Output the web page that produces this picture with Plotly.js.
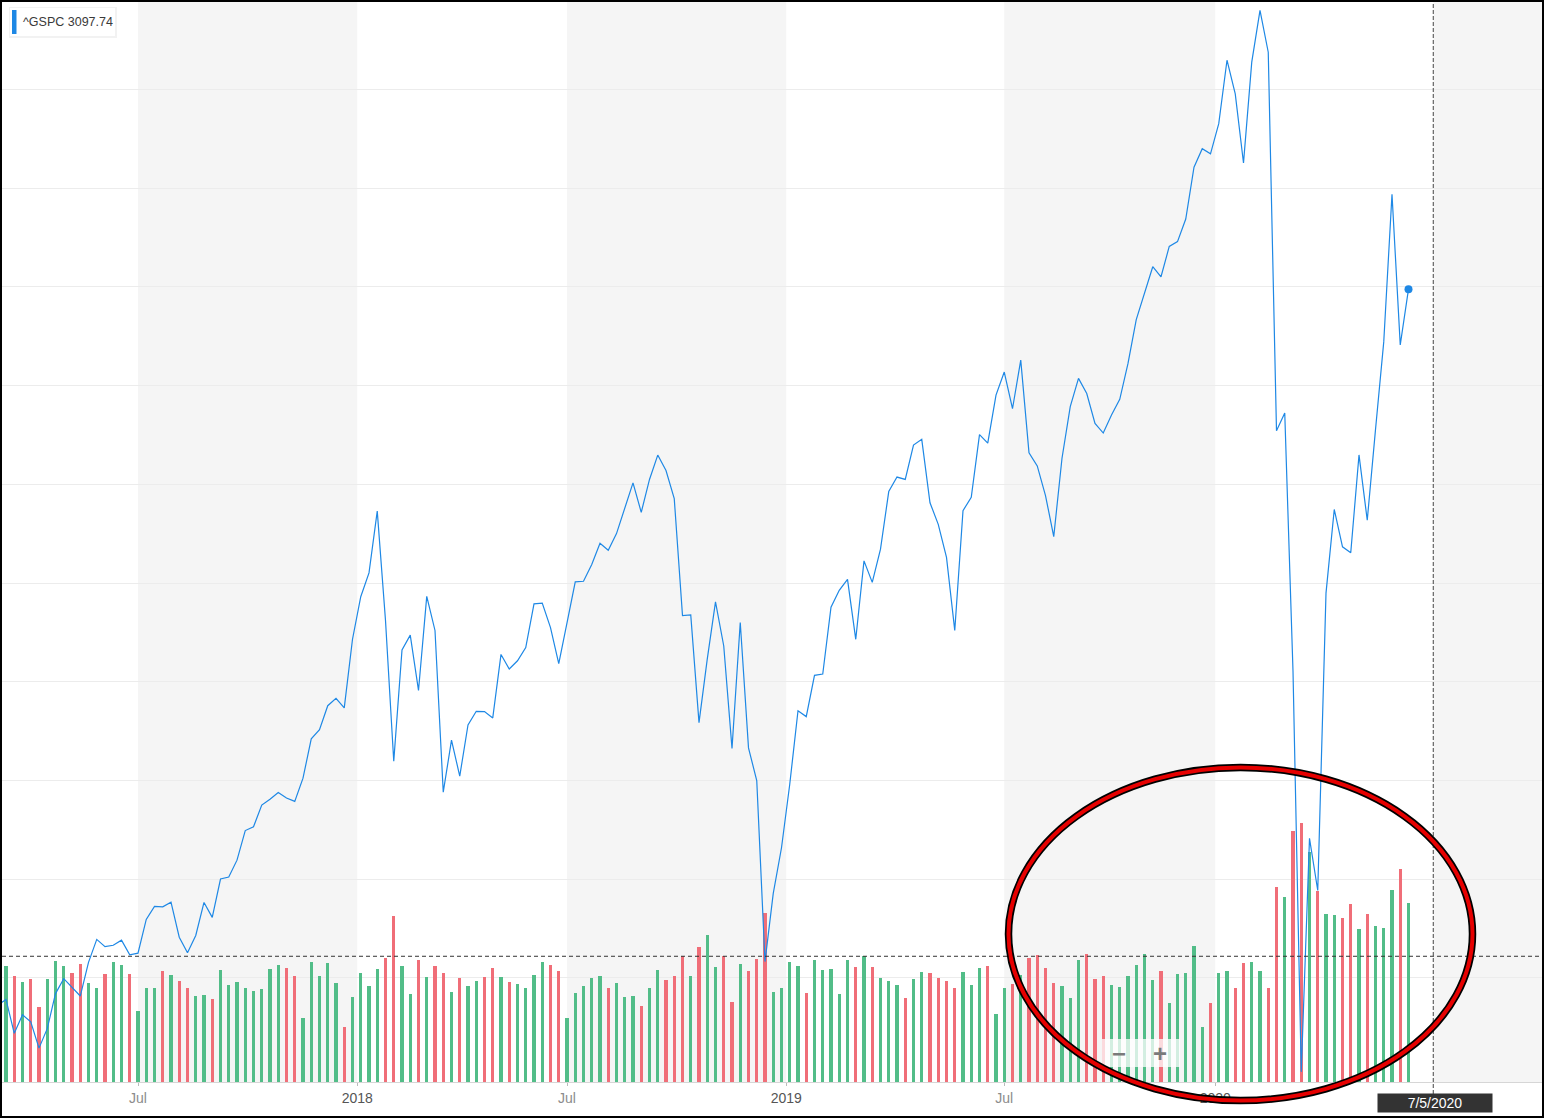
<!DOCTYPE html>
<html><head><meta charset="utf-8">
<script src="https://cdn.plot.ly/plotly-3.0.1.min.js"></script>
<style>
html,body{margin:0;padding:0;background:#fff;}
#wrap{position:absolute;left:0;top:0;width:1540px;height:1114px;border:2px solid #000;}
#chart{width:1540px;height:1114px;}
</style></head><body><div id="wrap"><div id="chart"></div></div>
<script>
// ---------- DATA ----------
const symbol = '^GSPC';
const firstWeek = '2017-03-06';   // weekly bars, Monday dates
const closePrices = [
2372.60, 2378.25, 2343.98, 2362.72, 2355.54, 2328.95, 2348.69, 2384.20, 2399.29, 2390.90,
2381.73, 2415.82, 2439.07, 2431.77, 2433.15, 2438.30, 2423.41, 2425.18, 2459.27, 2472.54,
2472.10, 2476.83, 2441.32, 2425.55, 2443.05, 2476.55, 2461.43, 2500.23, 2502.22, 2519.36,
2549.33, 2553.17, 2575.21, 2581.07, 2587.84, 2582.30, 2578.85, 2602.42, 2642.22, 2651.50,
2675.81, 2683.34, 2673.61, 2743.15, 2786.24, 2810.30, 2872.87, 2762.13, 2619.55, 2732.22,
2747.30, 2691.25, 2786.57, 2752.01, 2588.26, 2640.87, 2604.47, 2656.30, 2670.14, 2669.91,
2663.42, 2727.72, 2712.97, 2721.33, 2734.62, 2779.03, 2779.66, 2754.88, 2718.37, 2759.82,
2801.31, 2801.83, 2818.82, 2840.35, 2833.28, 2850.13, 2874.69, 2901.52, 2871.68, 2904.98,
2929.67, 2913.98, 2885.57, 2767.13, 2767.78, 2658.69, 2723.06, 2781.01, 2736.27, 2632.56,
2760.17, 2633.08, 2599.95, 2416.62, 2485.74, 2531.94, 2596.26, 2670.71, 2664.76, 2706.53,
2707.88, 2775.60, 2792.67, 2803.69, 2743.07, 2822.48, 2800.71, 2834.40, 2892.74, 2907.41,
2905.03, 2939.88, 2945.64, 2881.40, 2859.53, 2826.06, 2752.06, 2873.34, 2886.98, 2950.46,
2941.76, 2990.41, 3013.77, 2976.61, 3025.86, 2932.05, 2918.65, 2888.68, 2847.11, 2926.46,
2978.71, 3007.39, 2992.07, 2961.79, 2952.01, 2970.27, 2986.20, 3022.55, 3066.91, 3093.08,
3120.46, 3110.29, 3140.98, 3145.91, 3168.80, 3221.22, 3240.02, 3234.85, 3265.35, 3329.62,
3295.47, 3225.52, 3327.71, 3380.16, 3337.75, 2954.22, 2972.37, 2711.02, 2304.92, 2541.47,
2488.65, 2789.82, 2874.56, 2836.74, 2830.71, 2929.80, 2863.70, 2955.45, 3044.31, 3193.93,
3041.31, 3097.74
];
// weekly volume, billions of shares
const volumesB = [
16.5, 17.8, 16.3, 15.4, 15.8, 11.6, 15.9, 18.6, 17.8, 16.8,
18.2, 15.2, 14.4, 16.6, 18.5, 18.0, 16.6, 10.9, 14.4, 14.4,
17.1, 16.5, 15.6, 14.5, 13.2, 13.4, 12.8, 17.2, 14.9, 15.4,
14.5, 14.0, 14.3, 17.4, 18.0, 17.6, 16.3, 9.9, 18.5, 16.3,
18.3, 15.2, 8.4, 13.1, 16.7, 14.7, 17.4, 19.1, 25.6, 17.8,
13.5, 18.8, 16.2, 17.9, 16.7, 13.9, 16.0, 14.8, 15.6, 16.2,
17.5, 16.2, 15.4, 15.1, 14.5, 16.5, 18.4, 18.0, 17.1, 9.9,
13.7, 14.7, 16.0, 16.3, 14.5, 15.3, 13.1, 13.2, 11.7, 14.5,
17.3, 15.7, 16.3, 19.4, 16.3, 20.8, 22.6, 17.7, 19.4, 12.3,
18.2, 17.1, 19.0, 26.0, 13.8, 14.5, 18.5, 17.8, 13.7, 18.7,
17.2, 17.4, 13.5, 18.7, 17.7, 19.4, 17.7, 16.0, 15.6, 14.9,
12.9, 15.9, 16.9, 16.7, 16.0, 15.6, 14.4, 17.0, 14.9, 17.5,
17.9, 10.5, 14.5, 15.1, 16.5, 19.1, 19.5, 17.5, 15.3, 14.8,
12.9, 18.7, 19.7, 15.8, 16.3, 14.9, 14.6, 16.3, 18.0, 19.7,
15.7, 17.1, 12.2, 16.6, 16.8, 20.9, 8.5, 12.2, 16.8, 17.1,
14.5, 18.3, 18.5, 17.1, 14.5, 30.0, 28.5, 38.6, 39.9, 35.4,
29.4, 25.8, 25.7, 25.3, 27.4, 23.6, 25.9, 24.0, 23.7, 29.5,
32.7, 27.5
];
// bar direction: G = up week, R = down week
const volumeDir = (
'RGRGRRGGGR' + 'RGGRGGRGGG' + 'RGRRGGRGGG' + 'GGGGGRRGGG' + 'GGRGGGGRRG' +
'GRGRRGRGGR' + 'RGRGGGGRRG' + 'GGGGRGGGRG' + 'GRRRGRGGRR' + 'GRRRGGGGRG' +
'GGGGRGRGGG' + 'RGGRRRRGGG' + 'RGGRGRRRRG' + 'GGRRRGGGGG' + 'GRGGGGGRGG' +
'RRGGRRGRRG' + 'RGGRRGRGGG' + 'RG').split('');

const tickDates  = ['2017-07-03', '2018-01-05', '2018-07-02', '2019-01-04', '2019-07-08', '2020-01-03'];
const tickLabels = ['Jul', '2018', 'Jul', '2019', 'Jul', '2020'];
const bandStarts = ['2017-07-03', '2018-07-02', '2019-07-08', '2020-07-06'];
const bandEnds   = ['2018-01-05', '2019-01-04', '2020-01-03', '2020-10-10'];
const priceGrid  = [2400, 2500, 2600, 2700, 2800, 2900, 3000, 3100, 3200, 3300];
const crosshairDate  = '2020-07-06';
const crosshairLabel = '7/5/2020';
const crosshairPrice = 2422;

// ---------- HELPERS ----------
const DAY = 864e5;
const ms = s => Date.parse((s.length === 10 ? s + 'T00:00:00' : s.replace(' ', 'T')) + 'Z');
const weekDates = closePrices.map((_, i) => new Date(ms(firstWeek) + i * 7 * DAY).toISOString().slice(0, 10));
const xRange = ['2017-03-09 14:32:44', '2020-10-06 06:32:00'];
const PW = 1540, PH = 1080, PL = 2, PT = 2;           // plot area in page pixels
const pxX = px => (px - PL) / PW;                      // page px -> paper
const pxY = py => (PT + PH - py) / PH;
const dateToPaper = d => (ms(d) - ms(xRange[0])) / (ms(xRange[1]) - ms(xRange[0]));

const GREEN = '#52bd88', RED = '#f06e78', BLUE = '#1e88e5';

// ---------- TRACES ----------
const volumeTrace = {
  type: 'bar', x: weekDates, y: volumesB, yaxis: 'y', xaxis: 'x',
  width: 2.6 * DAY,
  marker: { color: volumeDir.map(d => d === 'G' ? GREEN : RED), line: { width: 0 } },
  hoverinfo: 'skip', showlegend: false
};
const priceTrace = {
  type: 'scatter', mode: 'lines', x: weekDates, y: closePrices, yaxis: 'y2', xaxis: 'x',
  line: { color: BLUE, width: 1.2 }, hoverinfo: 'skip', showlegend: false
};
const n = closePrices.length - 1;
const lastTrace = {
  type: 'scatter', mode: 'markers', x: [weekDates[n]], y: [closePrices[n]], yaxis: 'y2', xaxis: 'x',
  marker: { color: BLUE, size: 8 }, hoverinfo: 'skip', showlegend: false
};

// ---------- SHAPES ----------
const shapes = [];
bandStarts.forEach((s, i) => shapes.push({
  type: 'rect', xref: 'paper', yref: 'paper', x0: dateToPaper(s), x1: Math.min(1, dateToPaper(bandEnds[i])),
  y0: 0, y1: 1, fillcolor: '#f5f5f5', line: { width: 0 }, layer: 'below'
}));
// crosshair
shapes.push({ type: 'line', xref: 'paper', yref: 'y2', x0: 0, x1: 1, y0: crosshairPrice, y1: crosshairPrice,
  line: { color: '#333', width: 1, dash: '4px,3px' }, layer: 'above' });
shapes.push({ type: 'line', xref: 'paper', yref: 'paper', x0: dateToPaper(crosshairDate), x1: dateToPaper(crosshairDate),
  y0: pxY(1094), y1: 1, line: { color: '#444', width: 1, dash: '4px,2px' }, layer: 'above' });
// legend chip
shapes.push({ type: 'rect', xref: 'paper', yref: 'paper', x0: pxX(9), x1: pxX(117), y0: pxY(38), y1: pxY(7),
  fillcolor: 'rgba(0,0,0,0.05)', line: { width: 0 }, layer: 'above' });
shapes.push({ type: 'rect', xref: 'paper', yref: 'paper', x0: pxX(10), x1: pxX(115), y0: pxY(36), y1: pxY(8),
  fillcolor: '#ffffff', line: { width: 0 }, layer: 'above' });
shapes.push({ type: 'rect', xref: 'paper', yref: 'paper', x0: pxX(12), x1: pxX(16.5), y0: pxY(34), y1: pxY(10),
  fillcolor: BLUE, line: { width: 0 }, layer: 'above' });
// zoom buttons box
shapes.push({ type: 'rect', xref: 'paper', yref: 'paper', x0: pxX(1102), x1: pxX(1180), y0: pxY(1067), y1: pxY(1039),
  fillcolor: 'rgba(255,255,255,0.75)', line: { width: 0 }, layer: 'above' });
// highlight ellipse (black outline + red stroke)
const ell = { x0: pxX(1008.5), x1: pxX(1472.5), y0: pxY(1100.5), y1: pxY(767.5) };
shapes.push(Object.assign({ type: 'circle', xref: 'paper', yref: 'paper', line: { color: '#000', width: 7.5 }, fillcolor: 'rgba(0,0,0,0)', layer: 'above' }, ell));
shapes.push(Object.assign({ type: 'circle', xref: 'paper', yref: 'paper', line: { color: '#e60000', width: 4 }, fillcolor: 'rgba(0,0,0,0)', layer: 'above' }, ell));

// ---------- ANNOTATIONS ----------
const FONT = 'Liberation Sans, Arial, sans-serif';
const annotations = [
  { xref: 'paper', yref: 'paper', x: pxX(21), y: pxY(22), xanchor: 'left', yanchor: 'middle', showarrow: false,
    text: symbol + ' ' + closePrices[n].toFixed(2), font: { family: FONT, size: 12.5, color: '#3a3a3a' } },
  { xref: 'paper', yref: 'paper', x: pxX(1119), y: pxY(1053), xanchor: 'center', yanchor: 'middle', showarrow: false,
    text: '<b>\u2212</b>', font: { family: FONT, size: 24, color: '#7a7a7a' } },
  { xref: 'paper', yref: 'paper', x: pxX(1160), y: pxY(1053), xanchor: 'center', yanchor: 'middle', showarrow: false,
    text: '<b>+</b>', font: { family: FONT, size: 24, color: '#7a7a7a' } },
  { xref: 'paper', yref: 'paper', x: pxX(1435), y: pxY(1103), xanchor: 'center', yanchor: 'middle', showarrow: false,
    text: crosshairLabel, bgcolor: '#333', width: 114, height: 18, borderpad: 0,
    font: { family: FONT, size: 14, color: '#fff' } }
];

// ---------- LAYOUT ----------
const layout = {
  width: 1540, height: 1114,
  margin: { l: 0, r: 0, t: 0, b: 34, pad: 0 },
  paper_bgcolor: '#fff', plot_bgcolor: '#fff',
  showlegend: false, bargap: 0,
  xaxis: {
    type: 'date', range: xRange, showgrid: false, zeroline: false,
    tickvals: tickDates,
    ticktext: tickLabels.map(t => t === 'Jul' ? '<span style="color:#8c8c8c">' + t + '</span>' : t),
    ticks: 'outside', ticklen: 3, tickcolor: '#bbb', tickwidth: 1,
    showline: true, linecolor: '#d6d6d6', linewidth: 1,
    tickfont: { family: FONT, size: 14, color: '#555' }, fixedrange: true
  },
  yaxis: { range: [0, PH / 6.5], visible: false, fixedrange: true },
  yaxis2: {
    overlaying: 'y', side: 'right', range: [2294.65, 3388.6],
    tickvals: priceGrid, showticklabels: false, ticks: '',
    showgrid: true, gridcolor: '#ececec', gridwidth: 1, zeroline: false, showline: false, fixedrange: true
  },
  shapes: shapes, annotations: annotations
};

Plotly.newPlot('chart', [volumeTrace, priceTrace, lastTrace], layout, { displayModeBar: false, staticPlot: true });
</script></body></html>
